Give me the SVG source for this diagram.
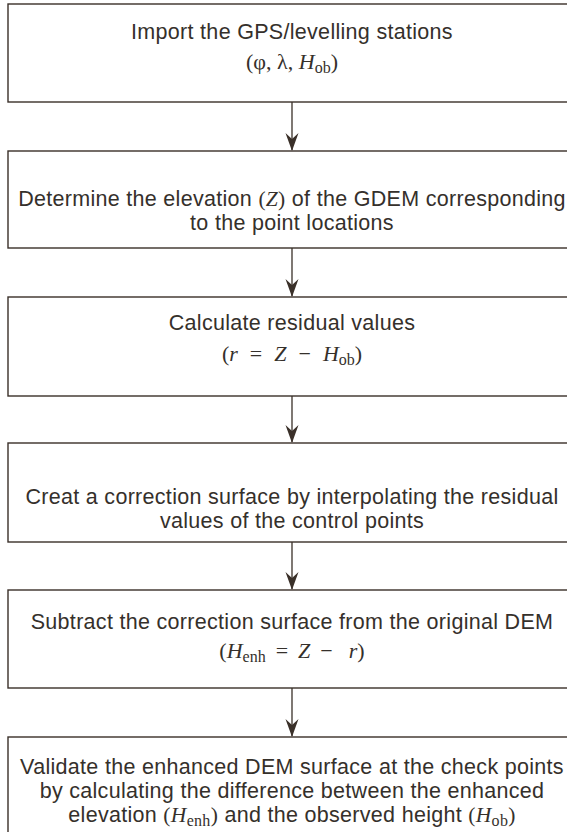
<svg xmlns="http://www.w3.org/2000/svg" width="567" height="832" viewBox="0 0 567 832">
<style>
.box{fill:#fff;stroke:#3a3029;stroke-width:1.4}
.t{font-family:"Liberation Sans",Arial,sans-serif;font-size:21.5px;letter-spacing:0.3px;fill:#35302b;text-anchor:middle}
.m{font-family:"Liberation Serif","DejaVu Serif",serif;font-size:22px;fill:#35302b;text-anchor:middle}
.mi{font-family:"Liberation Serif","DejaVu Serif",serif;font-size:21.5px}
.i{font-style:italic}
.s{font-size:16px}
.c{stroke:#3a3029;stroke-width:1.3;fill:none}
.h{fill:#3a3029}
</style>
<rect width="567" height="832" fill="#fff"/>
<g id="connectors">
<line class="c" x1="292" y1="102" x2="292" y2="150"/>
<path class="h" d="M292,151 L285.5,133 L292,139 L298.5,133 Z"/>
<line class="c" x1="292" y1="248" x2="292" y2="296"/>
<path class="h" d="M292,297 L285.5,279 L292,285 L298.5,279 Z"/>
<line class="c" x1="292" y1="396" x2="292" y2="442"/>
<path class="h" d="M292,443 L285.5,425 L292,431 L298.5,425 Z"/>
<line class="c" x1="292" y1="542" x2="292" y2="589"/>
<path class="h" d="M292,590 L285.5,572 L292,578 L298.5,572 Z"/>
<line class="c" x1="292" y1="688" x2="292" y2="736"/>
<path class="h" d="M292,737 L285.5,719 L292,725 L298.5,719 Z"/>
</g>
<g id="n1">
<rect class="box" x="8" y="4" width="570" height="98"/>
<text class="t" x="292" y="39">Import the GPS/levelling stations</text>
<text class="m" x="292" y="69">(φ, λ, <tspan class="i">H</tspan><tspan class="s" dy="4">ob</tspan><tspan dy="-4">)</tspan></text>
</g>
<g id="n2">
<rect class="box" x="8" y="151" width="570" height="97"/>
<text class="t" x="292" y="206">Determine the elevation <tspan class="mi">(<tspan class="i">Z</tspan>)</tspan> of the GDEM corresponding</text>
<text class="t" x="292" y="230">to the point locations</text>
</g>
<g id="n3">
<rect class="box" x="8" y="297" width="570" height="99"/>
<text class="t" x="292" y="330">Calculate residual values</text>
<text class="m" x="292" y="361">(<tspan class="i">r</tspan><tspan dx="12">=</tspan><tspan class="i" dx="12">Z</tspan><tspan dx="12">−</tspan><tspan class="i" dx="12">H</tspan><tspan class="s" dy="4">ob</tspan><tspan dy="-4">)</tspan></text>
</g>
<g id="n4">
<rect class="box" x="8" y="443" width="570" height="99"/>
<text class="t" x="292" y="504">Creat a correction surface by interpolating the residual</text>
<text class="t" x="292" y="528">values of the control points</text>
</g>
<g id="n5">
<rect class="box" x="8" y="590" width="570" height="98"/>
<text class="t" x="292" y="629">Subtract the correction surface from the original DEM</text>
<text class="m" x="292" y="658">(<tspan class="i">H</tspan><tspan class="s" dy="4">enh</tspan><tspan dy="-4" dx="10">=</tspan><tspan class="i" dx="10">Z</tspan><tspan dx="10">−</tspan><tspan class="i" dx="16">r</tspan>)</text>
</g>
<g id="n6">
<rect class="box" x="8" y="737" width="570" height="110"/>
<text class="t" x="292" y="774">Validate the enhanced DEM surface at the check points</text>
<text class="t" x="292" y="798">by calculating the difference between the enhanced</text>
<text class="t" x="292" y="822">elevation <tspan class="mi">(<tspan class="i">H</tspan><tspan class="s" dy="4">enh</tspan><tspan dy="-4">)</tspan></tspan> and the observed height <tspan class="mi">(<tspan class="i">H</tspan><tspan class="s" dy="4">ob</tspan><tspan dy="-4">)</tspan></tspan></text>
</g>
</svg>
